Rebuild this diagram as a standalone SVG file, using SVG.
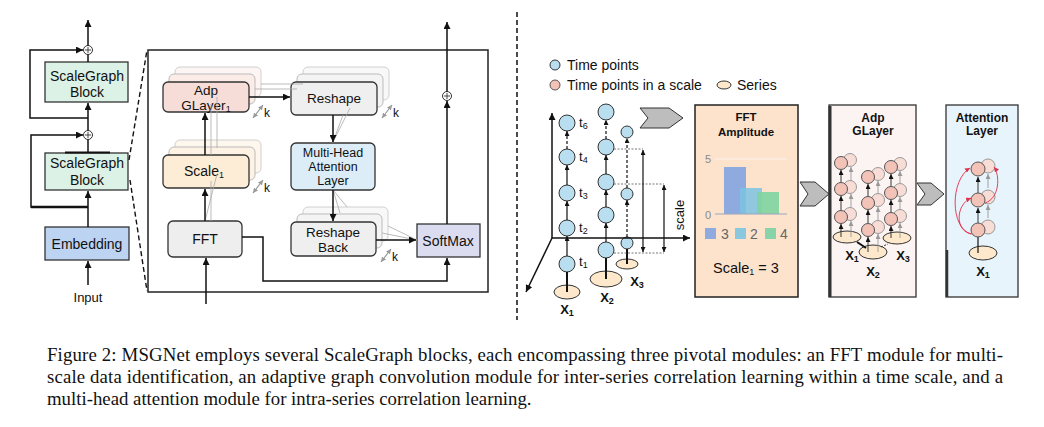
<svg xmlns="http://www.w3.org/2000/svg" width="1044" height="427" viewBox="0 0 1044 427">
<style>
text{font-family:"Liberation Sans",Arial,sans-serif;fill:#111}
.c{text-anchor:middle}
.n{stroke:#333;stroke-width:1.3}
.sh1{stroke:#bbb;stroke-width:1}
.sh2{stroke:#d0d0d0;stroke-width:1}
.ln{fill:none;stroke:#111;stroke-width:1.5}
.gl{fill:none;stroke:#aaa;stroke-width:0.8}
.dash{fill:none;stroke:#111;stroke-width:1.4;stroke-dasharray:5 3}
.bl{fill:#b9def0;stroke:#333;stroke-width:1}
.pk{fill:#f3c3b8;stroke:#555;stroke-width:1}
.pkb{fill:#f8dcd6;stroke:#999;stroke-width:1}
.se{fill:#fde8cc;stroke:#333;stroke-width:1}
.b{font-weight:bold}
.cap{font-family:"Liberation Serif","Times New Roman",serif;font-size:18.8px;fill:#111}
</style>
<defs>
<marker id="ah" markerWidth="7" markerHeight="7" refX="7" refY="3.5" orient="auto-start-reverse" markerUnits="userSpaceOnUse"><path d="M0,0 L7,3.5 L0,7 z" fill="#111"/></marker>
<marker id="as" markerWidth="5" markerHeight="5" refX="5" refY="2.5" orient="auto-start-reverse" markerUnits="userSpaceOnUse"><path d="M0,0 L5,2.5 L0,5 z" fill="#111"/></marker>
<marker id="ag" markerWidth="5" markerHeight="5" refX="5" refY="2.5" orient="auto-start-reverse" markerUnits="userSpaceOnUse"><path d="M0,0 L5,2.5 L0,5 z" fill="#999"/></marker>
<marker id="ar" markerWidth="5" markerHeight="5" refX="5" refY="2.5" orient="auto-start-reverse" markerUnits="userSpaceOnUse"><path d="M0,0 L5,2.5 L0,5 z" fill="#e0304a"/></marker>
</defs>

<!-- Left stack -->
<g id="sg1"><rect x="45" y="62" width="83" height="40" fill="#dcf2e6" class="n"/><text x="87" y="81" class="c" font-size="14">ScaleGraph</text><text x="87" y="97" class="c" font-size="14">Block</text></g>
<g id="sg2"><rect x="45" y="153" width="83" height="37" fill="#dcf2e6" class="n"/><line x1="65" y1="152.5" x2="110" y2="152.5" stroke="#111" stroke-width="2"/><text x="87" y="168" class="c" font-size="14">ScaleGraph</text><text x="87" y="185" class="c" font-size="14">Block</text></g>
<g id="emb"><rect x="45" y="227" width="84" height="33" fill="#bcd3f2" class="n"/><text x="87" y="249" class="c" font-size="14">Embedding</text></g>
<g id="input"><text x="88" y="302" class="c" font-size="13">Input</text></g>
<g id="plus1"><circle cx="88" cy="50" r="4.5" fill="#fff" stroke="#333"/><path d="M85,50 H91 M88,47 V53" stroke="#333" stroke-width="0.9"/></g>
<g id="plus2"><circle cx="88" cy="135" r="4.5" fill="#fff" stroke="#333"/><path d="M85,135 H91 M88,132 V138" stroke="#333" stroke-width="0.9"/></g>

<!-- Big block -->
<g id="block"><rect x="148" y="50" width="340" height="242" fill="none" stroke="#222" stroke-width="1.5"/></g>

<g id="adp">
<rect x="175" y="67" width="86" height="30" rx="5" fill="#fdf5f3" class="sh2"/>
<rect x="169" y="74" width="86" height="30" rx="5" fill="#fbece8" class="sh1"/>
<rect x="163" y="82" width="86" height="30" rx="5" fill="#f7ddd8" class="n"/>
<text x="206" y="95" class="c" font-size="13.5">Adp</text><text x="206" y="110" class="c" font-size="13.5">GLayer<tspan font-size="9" dy="2">1</tspan></text>
</g>
<g id="scale1">
<rect x="175" y="140" width="86" height="33" rx="5" fill="#fdf7ee" class="sh2"/>
<rect x="169" y="147" width="86" height="33" rx="5" fill="#fdf2e4" class="sh1"/>
<rect x="163" y="155" width="86" height="33" rx="5" fill="#fdecd6" class="n"/>
<text x="204" y="176" class="c" font-size="14">Scale<tspan font-size="9" dy="2">1</tspan></text>
</g>
<g id="fft"><rect x="168" y="221" width="74" height="36" rx="5" fill="#eeeeee" class="n"/><text x="205" y="244" class="c" font-size="14">FFT</text></g>
<g id="reshape">
<rect x="303" y="67" width="86" height="33" rx="5" fill="#f8f8f8" class="sh2"/>
<rect x="297" y="74" width="86" height="33" rx="5" fill="#f4f4f4" class="sh1"/>
<rect x="291" y="82" width="86" height="33" rx="5" fill="#efefef" class="n"/>
<text x="334" y="103" class="c" font-size="13.5">Reshape</text>
</g>
<g id="mha"><rect x="291" y="143" width="84" height="47" rx="5" fill="#dcedf8" class="n"/><text x="333" y="157" class="c" font-size="12.5">Multi-Head</text><text x="333" y="171" class="c" font-size="12.5">Attention</text><text x="333" y="185" class="c" font-size="12.5">Layer</text></g>
<g id="rback">
<rect x="303" y="207" width="85" height="34" rx="5" fill="#f8f8f8" class="sh2"/>
<rect x="297" y="214" width="85" height="34" rx="5" fill="#f4f4f4" class="sh1"/>
<rect x="291" y="222" width="85" height="34" rx="5" fill="#efefef" class="n"/>
<text x="333" y="237" class="c" font-size="13.5">Reshape</text><text x="333" y="252" class="c" font-size="13.5">Back</text>
</g>
<g id="softmax"><rect x="417" y="224" width="63" height="33" fill="#dcdcf0" class="n"/><text x="448" y="246" class="c" font-size="14">SoftMax</text></g>
<g id="plus3"><circle cx="447" cy="96" r="4.5" fill="#fff" stroke="#333"/><path d="M444,96 H450 M447,93 V99" stroke="#333" stroke-width="0.9"/></g>
<g id="klabels" font-size="12">
<text x="264" y="117">k</text><text x="264" y="192">k</text><text x="393" y="117">k</text><text x="392" y="261">k</text>
</g>

<!-- Right side legend -->
<g id="legend">
<circle cx="555" cy="65" r="5" class="bl"/><text x="567" y="70" font-size="14">Time points</text>
<circle cx="555" cy="85" r="5" class="pk"/><text x="567" y="90" font-size="14">Time points in a scale</text>
<ellipse cx="724" cy="85" rx="7" ry="4" class="se"/><text x="737" y="90" font-size="14">Series</text>
</g>

<g id="x1col">
<ellipse cx="567" cy="292" rx="13" ry="7" class="se"/>
<circle cx="567" cy="264" r="8" class="bl"/><circle cx="567" cy="228" r="8" class="bl"/><circle cx="567" cy="193" r="8" class="bl"/><circle cx="567" cy="157" r="8" class="bl"/><circle cx="567" cy="123" r="8" class="bl"/>
<g font-size="13"><text x="579" y="127">t<tspan font-size="9" dy="2">6</tspan></text><text x="579" y="161">t<tspan font-size="9" dy="2">4</tspan></text><text x="579" y="197">t<tspan font-size="9" dy="2">3</tspan></text><text x="579" y="232">t<tspan font-size="9" dy="2">2</tspan></text><text x="579" y="266">t<tspan font-size="9" dy="2">1</tspan></text></g>
<text x="567" y="314" class="c b" font-size="13">X<tspan font-size="9" dy="2">1</tspan></text>
</g>
<g id="x2col">
<ellipse cx="606" cy="279" rx="16" ry="8" class="se"/>
<circle cx="606" cy="250" r="8" class="bl"/><circle cx="606" cy="215" r="8" class="bl"/><circle cx="606" cy="182" r="8" class="bl"/><circle cx="606" cy="147" r="8" class="bl"/><circle cx="606" cy="112" r="8" class="bl"/>
<text x="607" y="302" class="c b" font-size="13">X<tspan font-size="9" dy="2">2</tspan></text>
</g>
<g id="x3col">
<ellipse cx="627" cy="264" rx="11" ry="5" class="se"/>
<circle cx="627" cy="243" r="6" class="bl"/><circle cx="627" cy="194" r="6" class="bl"/><circle cx="627" cy="132" r="6" class="bl"/>
<text x="637" y="286" class="c b" font-size="13">X<tspan font-size="9" dy="2">3</tspan></text>
</g>
<g id="scalelabel"><text x="684" y="215" class="c" font-size="13" transform="rotate(-90 684 215)">scale</text></g>

<g id="fftpanel">
<rect x="695" y="105" width="103" height="192" fill="#fde3cc" stroke="#222" stroke-width="1.5"/>
<text x="746" y="121" class="c b" font-size="11.5">FFT</text><text x="746" y="136" class="c b" font-size="11.5">Amplitude</text>
<text x="705" y="163" font-size="11" style="fill:#888">5</text><text x="705" y="219" font-size="11" style="fill:#888">0</text>
<line x1="715" y1="159" x2="787" y2="159" stroke="#fbf3ee" stroke-width="1"/>
<rect x="724" y="167" width="22" height="47" fill="#8eaadf"/>
<rect x="740" y="188" width="22" height="26" fill="#7cc3e2" opacity="0.85"/>
<rect x="757" y="192" width="22" height="22" fill="#7fd3a0" opacity="0.9"/>
<line x1="715" y1="214" x2="787" y2="214" stroke="#9aa4bf" stroke-width="1"/>
<rect x="705" y="228" width="11" height="11" fill="#8eaadf"/><text x="721" y="239" font-size="14" style="fill:#666">3</text>
<rect x="735" y="228" width="11" height="11" fill="#8ac8e0"/><text x="750" y="239" font-size="14" style="fill:#666">2</text>
<rect x="765" y="228" width="11" height="11" fill="#88d4a8"/><text x="780" y="239" font-size="14" style="fill:#666">4</text>
<text x="746" y="273" class="c" font-size="14.5">Scale<tspan font-size="9" dy="2">1</tspan><tspan dy="-2"> = 3</tspan></text>
</g>

<g id="adppanel">
<rect x="829" y="105" width="87" height="192" fill="#fcf4f2" stroke="#333" stroke-width="1.3"/>
<line x1="830" y1="106" x2="830" y2="297" stroke="#333" stroke-width="3"/>
<text x="873" y="122" class="c b" font-size="12">Adp</text><text x="873" y="135" class="c b" font-size="12">GLayer</text>
<ellipse cx="847" cy="237" rx="14" ry="6" class="se"/>
<ellipse cx="873" cy="252" rx="14" ry="7" class="se"/>
<ellipse cx="897" cy="238" rx="14" ry="6" class="se"/>
<g stroke="#999" stroke-width="0.9" fill="none" marker-end="url(#ag)">
<path d="M851,237 V221"/><path d="M851,207 V194"/><path d="M851,181 V167"/>
<path d="M878,252 V234"/><path d="M878,220 V207"/><path d="M878,193 V181"/>
<path d="M900,238 V223"/><path d="M900,209 V197"/><path d="M900,183 V171"/>
</g>
<circle cx="850" cy="214" r="6.5" class="pkb"/><circle cx="850" cy="187" r="6.5" class="pkb"/><circle cx="850" cy="160" r="6.5" class="pkb"/>
<circle cx="878" cy="227" r="6.5" class="pkb"/><circle cx="878" cy="200" r="6.5" class="pkb"/><circle cx="878" cy="174" r="6.5" class="pkb"/>
<circle cx="900" cy="216" r="6.5" class="pkb"/><circle cx="900" cy="190" r="6.5" class="pkb"/><circle cx="900" cy="164" r="6.5" class="pkb"/>
<g stroke="#222" stroke-width="0.9" fill="none" marker-end="url(#as)">
<path d="M841,237 V224"/><path d="M841,210 V196"/><path d="M841,182 V170"/>
<path d="M868,252 V237"/><path d="M868,223 V210"/><path d="M868,196 V184"/>
<path d="M891,238 V226"/><path d="M891,212 V200"/><path d="M891,186 V174"/>
</g>
<circle cx="841" cy="217" r="6.5" class="pk"/><circle cx="841" cy="189" r="6.5" class="pk"/><circle cx="841" cy="163" r="6.5" class="pk"/>
<circle cx="868" cy="230" r="6.5" class="pk"/><circle cx="868" cy="203" r="6.5" class="pk"/><circle cx="868" cy="177" r="6.5" class="pk"/>
<circle cx="891" cy="219" r="6.5" class="pk"/><circle cx="891" cy="193" r="6.5" class="pk"/><circle cx="891" cy="167" r="6.5" class="pk"/>
<line x1="857" y1="242" x2="866" y2="248" stroke="#111" stroke-width="2"/>
<line x1="881" y1="247" x2="888" y2="244" stroke="#333" stroke-width="1" stroke-dasharray="2 1.5"/>
<text x="852" y="260" class="c b" font-size="13">X<tspan font-size="9" dy="2">1</tspan></text>
<text x="873" y="276" class="c b" font-size="13">X<tspan font-size="9" dy="2">2</tspan></text>
<text x="903" y="260" class="c b" font-size="13">X<tspan font-size="9" dy="2">3</tspan></text>
</g>

<g id="attpanel">
<rect x="946" y="105" width="72" height="192" fill="#e8f4fb" stroke="#333" stroke-width="1.3"/>
<line x1="947" y1="250" x2="947" y2="297" stroke="#333" stroke-width="2.5"/>
<text x="982" y="122" class="c b" font-size="12">Attention</text><text x="982" y="135" class="c b" font-size="12">Layer</text>
<ellipse cx="983" cy="253" rx="14" ry="7" class="se"/>
<g stroke="#999" stroke-width="0.9" fill="none" marker-end="url(#ag)"><path d="M988,218 V205"/><path d="M988,188 V174"/></g>
<circle cx="988" cy="227" r="7" class="pkb"/><circle cx="988" cy="197" r="7" class="pkb"/><circle cx="988" cy="166" r="7" class="pkb"/>
<line x1="978" y1="253" x2="978" y2="237" stroke="#111" stroke-width="1.2"/>
<g stroke="#222" stroke-width="0.9" fill="none" marker-end="url(#as)"><path d="M978,223 V208"/><path d="M978,193 V177"/></g>
<circle cx="978" cy="230" r="7" class="pk"/><circle cx="978" cy="200" r="7" class="pk"/><circle cx="978" cy="169" r="7" class="pk"/>
<g stroke="#e0304a" stroke-width="0.9" fill="none" marker-end="url(#ar)">
<path d="M972,234 C955,232 955,205 971,198"/>
<path d="M971,234 C950,228 950,180 970,168"/>
<path d="M985,203 C1000,198 1000,175 994,167"/>
</g>
<text x="983" y="276" class="c b" font-size="13">X<tspan font-size="9" dy="2">1</tspan></text>
</g>

<g id="bigarrows" fill="#bdbdbd" stroke="#333" stroke-width="1">
<polygon points="640,108 669,108 683,118 669,128 640,128 648,118"/>
<polygon points="800,182 815,182 829,194 815,206 800,206 808,194"/>
<polygon points="917,183 931,183 944,194 931,205 917,205 925,194"/>
</g>

<g id="connectors">
<line x1="88" y1="285" x2="88" y2="261" class="ln" marker-end="url(#ah)"/>
<line x1="88" y1="227" x2="88" y2="191" class="ln" marker-end="url(#ah)"/>
<line x1="88" y1="153" x2="88" y2="139.5" class="ln"/>
<line x1="88" y1="130.5" x2="88" y2="103" class="ln" marker-end="url(#ah)"/>
<line x1="88" y1="62" x2="88" y2="54.5" class="ln"/>
<line x1="88" y1="45.5" x2="88" y2="20" class="ln" marker-end="url(#ah)"/>
<path d="M88,118 H30 V50 H83" class="ln" marker-end="url(#ah)"/>
<path d="M88,207 H31 V135 H83" class="ln" marker-end="url(#ah)"/>
<line x1="31" y1="207" x2="88" y2="207" stroke="#111" stroke-width="2.5"/>
<line x1="129" y1="160" x2="147" y2="50" class="dash"/>
<line x1="130" y1="180" x2="147" y2="291" class="dash"/>
<path d="M211,221 L211,181 M205,221 L217,174 M211,155 V104 M217,148 V97 M255,89 H297 M261,84 H303 M343,115 L333,142 M350,108 L333,142 M333,190 L340,213 M333,190 L347,207 M382,233 L417,240 M388,226 L417,240" class="gl"/>
<line x1="205" y1="221" x2="205" y2="189" class="ln" marker-end="url(#ah)"/>
<line x1="205" y1="155" x2="205" y2="113" class="ln" marker-end="url(#ah)"/>
<line x1="206" y1="304" x2="206" y2="258" class="ln" marker-end="url(#ah)"/>
<line x1="249" y1="97" x2="290" y2="97" class="ln" marker-end="url(#ah)"/>
<line x1="333" y1="115" x2="333" y2="142" class="ln" marker-end="url(#ah)"/>
<line x1="333" y1="190" x2="333" y2="221" class="ln" marker-end="url(#ah)"/>
<line x1="376" y1="240" x2="416" y2="240" class="ln" marker-end="url(#ah)"/>
<path d="M242,237 H263 V281 H447 V258" class="ln" marker-end="url(#ah)"/>
<line x1="447" y1="224" x2="447" y2="101" class="ln" marker-end="url(#ah)"/>
<line x1="447" y1="91.5" x2="447" y2="22" class="ln" marker-end="url(#ah)"/>
<g stroke="#999" stroke-width="1.2" marker-start="url(#ag)" marker-end="url(#ag)">
<line x1="253" y1="118" x2="263" y2="105"/><line x1="253" y1="193" x2="263" y2="180"/>
<line x1="382" y1="118" x2="392" y2="105"/><line x1="381" y1="262" x2="391" y2="249"/>
</g>
<line x1="517" y1="12" x2="517" y2="320" stroke="#111" stroke-width="1.5" stroke-dasharray="5 3"/>
<line x1="552" y1="238" x2="552" y2="113" class="ln" marker-end="url(#ah)"/>
<line x1="552" y1="238" x2="690" y2="238" class="ln" marker-end="url(#ah)"/>
<line x1="552" y1="238" x2="526" y2="292" class="ln" marker-end="url(#ah)"/>
<g stroke="#111" stroke-width="2"><line x1="567" y1="292" x2="567" y2="272"/><line x1="606" y1="279" x2="606" y2="258"/><line x1="627" y1="264" x2="627" y2="249"/></g>
<g stroke="#111" stroke-width="1.2" marker-end="url(#as)">
<line x1="567" y1="256" x2="567" y2="236"/><line x1="567" y1="220" x2="567" y2="201"/><line x1="567" y1="185" x2="567" y2="165"/>
<line x1="567" y1="149" x2="567" y2="131" stroke-dasharray="3 2"/>
<line x1="606" y1="242" x2="606" y2="223"/><line x1="606" y1="207" x2="606" y2="190"/><line x1="606" y1="174" x2="606" y2="155"/>
<line x1="606" y1="139" x2="606" y2="120" stroke-dasharray="3 2"/>
<line x1="627" y1="237" x2="627" y2="200" stroke-dasharray="3 2"/>
<line x1="627" y1="188" x2="627" y2="138" stroke-dasharray="3 2"/>
</g>
<g stroke="#777" stroke-width="1" stroke-dasharray="2 1.5"><line x1="614" y1="149" x2="643" y2="149"/><line x1="614" y1="184" x2="664" y2="184"/><line x1="614" y1="253" x2="664" y2="253"/></g>
<g stroke="#111" stroke-width="1.2" marker-start="url(#as)" marker-end="url(#as)"><line x1="643" y1="150" x2="643" y2="252"/><line x1="664" y1="185" x2="664" y2="252"/></g>
</g>

<g id="caption">
<text x="47" y="361" class="cap" textLength="956" lengthAdjust="spacing">Figure 2: MSGNet employs several ScaleGraph blocks, each encompassing three pivotal modules: an FFT module for multi-</text>
<text x="47" y="383" class="cap" textLength="956" lengthAdjust="spacing">scale data identification, an adaptive graph convolution module for inter-series correlation learning within a time scale, and a</text>
<text x="47" y="405" class="cap">multi-head attention module for intra-series correlation learning.</text>
</g>
</svg>
